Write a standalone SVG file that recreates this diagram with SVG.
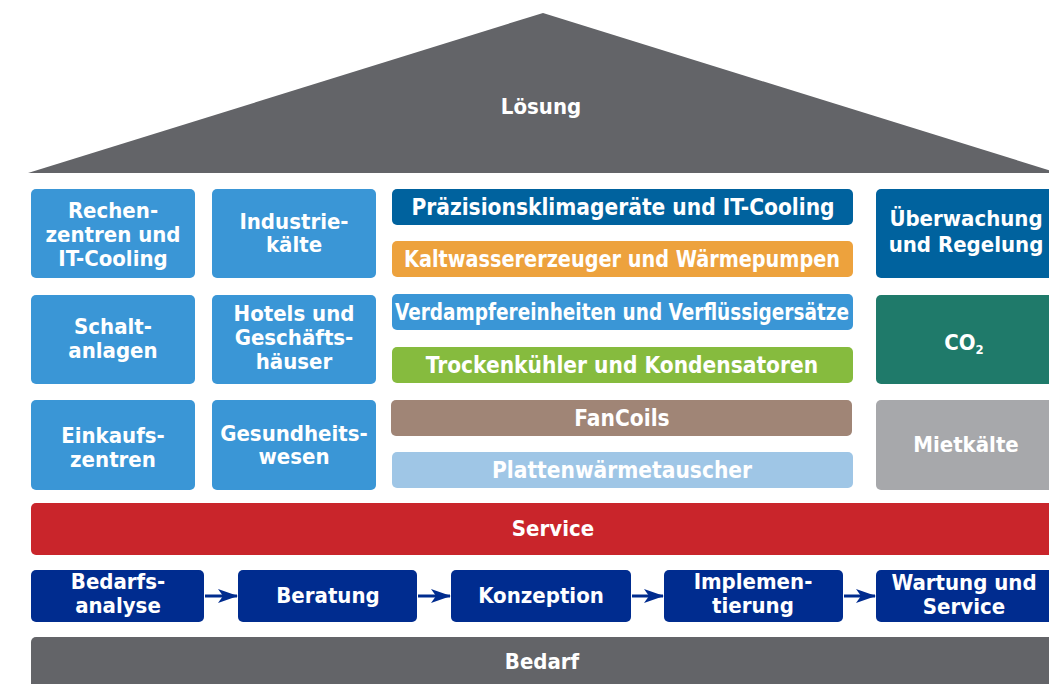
<svg xmlns="http://www.w3.org/2000/svg" width="1049" height="684" viewBox="0 0 1049 684">
<defs>
<style>
text{font-family:"DejaVu Sans Condensed","DejaVu Sans",sans-serif;font-stretch:condensed;font-weight:bold;fill:#fff;text-anchor:middle;font-size:22px}
.bt{font-size:22.5px}
.lb{fill:#3A96D6}
.db{fill:#00629E}
.nv{fill:#002C8F}
.cn{stroke:#002C8F;stroke-width:3;fill:none}
</style>
<marker id="ah" viewBox="0 0 20 14" refX="19" refY="7" markerWidth="20" markerHeight="14" markerUnits="userSpaceOnUse" orient="auto">
<path d="M0,0 L20,7 L0,14 L5,7 Z" fill="#002C8F"/>
</marker>
</defs>
<rect width="1049" height="684" fill="#fff"/>
<g id="roof"><polygon points="28,173 543,13 1058,173" fill="#636468"/><text x="541" y="114" font-size="23">Lösung</text></g>
<g id="n-rechen"><rect class="lb" x="31" y="189" width="164" height="89" rx="5"/><text x="113" y="218">Rechen-</text><text x="113" y="242">zentren und</text><text x="113" y="266">IT-Cooling</text></g>
<g id="n-industrie"><rect class="lb" x="212" y="189" width="164" height="89" rx="5"/><text x="294" y="229">Industrie-</text><text x="294" y="252">kälte</text></g>
<g id="n-schalt"><rect class="lb" x="31" y="295" width="164" height="89" rx="5"/><text x="113" y="334">Schalt-</text><text x="113" y="358">anlagen</text></g>
<g id="n-hotels"><rect class="lb" x="212" y="295" width="164" height="89" rx="5"/><text x="294" y="321">Hotels und</text><text x="294" y="345">Geschäfts-</text><text x="294" y="369">häuser</text></g>
<g id="n-einkauf"><rect class="lb" x="31" y="400" width="164" height="90" rx="5"/><text x="113" y="443">Einkaufs-</text><text x="113" y="467">zentren</text></g>
<g id="n-gesund"><rect class="lb" x="212" y="400" width="164" height="90" rx="5"/><text x="294" y="441">Gesundheits-</text><text x="294" y="464">wesen</text></g>
<g id="n-praez"><rect x="392" y="189" width="461" height="36" rx="5" fill="#00629E"/><text class="bt" x="623" y="215">Präzisionsklimageräte und IT-Cooling</text></g>
<g id="n-kalt"><rect x="392" y="241" width="461" height="36" rx="5" fill="#EDA23D"/><text class="bt" x="622" y="267" textLength="436" lengthAdjust="spacingAndGlyphs">Kaltwassererzeuger und Wärmepumpen</text></g>
<g id="n-verd"><rect x="392" y="294" width="461" height="36" rx="5" fill="#3A96D6"/><text class="bt" x="622" y="320" textLength="454" lengthAdjust="spacingAndGlyphs">Verdampfereinheiten und Verflüssigersätze</text></g>
<g id="n-trocken"><rect x="392" y="347" width="461" height="36" rx="5" fill="#86BB3E"/><text class="bt" x="622" y="373">Trockenkühler und Kondensatoren</text></g>
<g id="n-fan"><rect x="391" y="400" width="461" height="36" rx="5" fill="#A08576"/><text class="bt" x="622" y="426">FanCoils</text></g>
<g id="n-platten"><rect x="392" y="452" width="461" height="36" rx="5" fill="#9FC6E6"/><text class="bt" x="622" y="478">Plattenwärmetauscher</text></g>
<g id="n-ueber"><rect class="db" x="876" y="189" width="190" height="89" rx="5"/><text x="966" y="226">Überwachung</text><text x="966" y="252">und Regelung</text></g>
<g id="n-co2"><rect x="876" y="295" width="190" height="89" rx="5" fill="#1F7A6A"/><text x="964" y="350">CO<tspan font-size="13" dy="4">2</tspan></text></g>
<g id="n-miet"><rect x="876" y="400" width="190" height="90" rx="5" fill="#A7A8AB"/><text x="966" y="452">Mietkälte</text></g>
<g id="n-service"><rect x="31" y="503" width="1035" height="52" rx="5" fill="#C9252B"/><text x="553" y="536">Service</text></g>
<g id="n-bedarfs"><rect class="nv" x="31" y="570" width="173" height="52" rx="5"/><text x="118" y="589">Bedarfs-</text><text x="118" y="613">analyse</text></g>
<g id="n-beratung"><rect class="nv" x="238" y="570" width="179" height="52" rx="5"/><text x="328" y="603">Beratung</text></g>
<g id="n-konzeption"><rect class="nv" x="451" y="570" width="180" height="52" rx="5"/><text x="541" y="603">Konzeption</text></g>
<g id="n-impl"><rect class="nv" x="664" y="570" width="179" height="52" rx="5"/><text x="753" y="589">Implemen-</text><text x="753" y="613">tierung</text></g>
<g id="n-wartung"><rect class="nv" x="876" y="570" width="190" height="52" rx="5"/><text x="964" y="590">Wartung und</text><text x="964" y="614">Service</text></g>
<g id="n-bedarf"><rect x="31" y="637" width="1035" height="60" rx="5" fill="#636468"/><text x="542" y="669">Bedarf</text></g>
<g id="connectors">
<line class="cn" x1="205" y1="596" x2="237" y2="596" marker-end="url(#ah)"/>
<line class="cn" x1="418" y1="596" x2="450" y2="596" marker-end="url(#ah)"/>
<line class="cn" x1="632" y1="596" x2="663" y2="596" marker-end="url(#ah)"/>
<line class="cn" x1="844" y1="596" x2="875" y2="596" marker-end="url(#ah)"/>
</g>
</svg>
